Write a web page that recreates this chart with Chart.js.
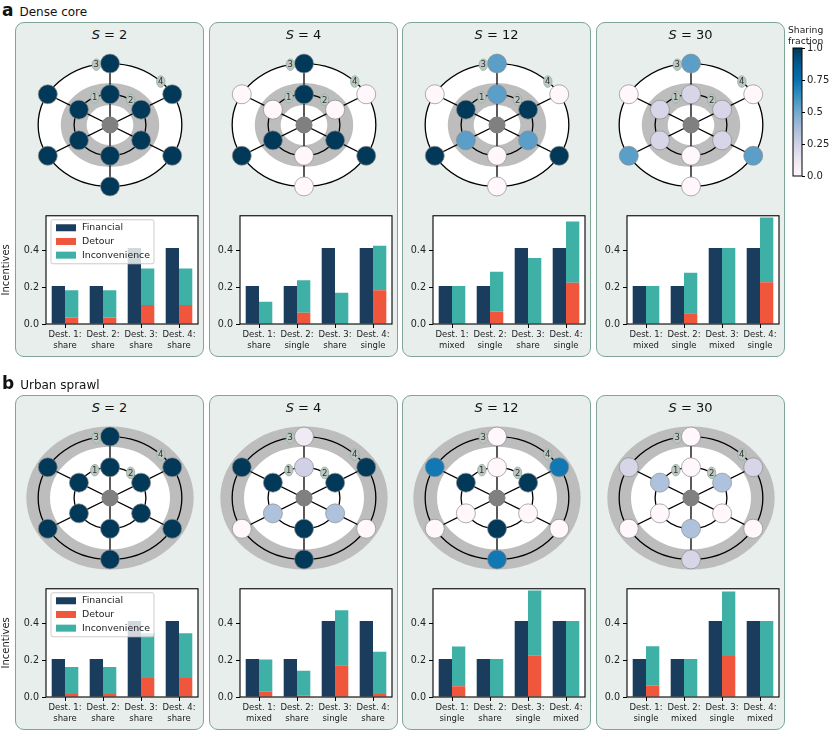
<!DOCTYPE html>
<html>
<head>
<meta charset="utf-8">
<script src="https://cdn.jsdelivr.net/npm/chart.js@4.4.0/dist/chart.umd.min.js"></script>
<style>
  body { margin: 0; background: #fff; font-family: 'DejaVu Sans', sans-serif; }
  #fig { position: relative; width: 831px; height: 733px; overflow: hidden; }
  .panel { position: absolute; background: #e8eeec; border: 1px solid #7ea596; border-radius: 9px; box-sizing: border-box; }
  .ptitle { position: absolute; font-size: 13px; line-height: 18px; text-align: center; color: #111; }
  .rowlab { position: absolute; left: 2px; color: #111; font-size: 12px; white-space: nowrap; }
  .rowlab b { font-size: 17px; margin-right: 6px; }
  .cblab { position: absolute; font-size: 9.2px; line-height: 11px; color: #222; }
  canvas { position: absolute; }
</style>
</head>
<body>
<div id="fig"></div>
<script>
// --- Dados ---
const sValues = [2, 4, 12, 30];
const rowLetters = ['a', 'b'];
const rowNames = ['Dense core', 'Urban sprawl'];
const categories = ['Dest. 1:', 'Dest. 2:', 'Dest. 3:', 'Dest. 4:'];
const seriesNames = ['Financial', 'Detour', 'Inconvenience'];

// modo escolhido por destino (linha a / linha b, um array por painel S)
const modesA = [['share', 'share', 'share', 'share'], ['share', 'single', 'share', 'single'],
                ['mixed', 'single', 'share', 'single'], ['mixed', 'single', 'mixed', 'single']];
const modesB = [['share', 'share', 'share', 'share'], ['mixed', 'share', 'single', 'share'],
                ['single', 'share', 'single', 'mixed'], ['single', 'mixed', 'single', 'mixed']];

// incentivos (barras)
const financialA = [[0.207, 0.207, 0.414, 0.414], [0.207, 0.207, 0.414, 0.414],
                    [0.207, 0.207, 0.414, 0.414], [0.207, 0.207, 0.414, 0.414]];
const detourA = [[0.035, 0.035, 0.103, 0.103], [0, 0.061, 0, 0.184],
                 [0, 0.068, 0, 0.225], [0, 0.059, 0, 0.227]];
const inconvA = [[0.149, 0.149, 0.199, 0.199], [0.121, 0.177, 0.171, 0.243],
                 [0.207, 0.217, 0.360, 0.334], [0.207, 0.220, 0.414, 0.353]];
const financialB = [[0.207, 0.207, 0.414, 0.414], [0.207, 0.207, 0.414, 0.414],
                    [0.207, 0.207, 0.414, 0.414], [0.207, 0.207, 0.414, 0.414]];
const detourB = [[0.016, 0.016, 0.104, 0.104], [0.029, 0.007, 0.173, 0.016],
                 [0.058, 0, 0.225, 0], [0.061, 0, 0.223, 0]];
const inconvB = [[0.148, 0.148, 0.244, 0.244], [0.176, 0.136, 0.300, 0.230],
                 [0.217, 0.207, 0.355, 0.414], [0.216, 0.207, 0.352, 0.414]];
const yTicks = [0, 0.2, 0.4];
const yMax = 0.59;

// rede: anel interno e externo, nós nos ângulos abaixo (topo, sup-dir, inf-dir, baixo, inf-esq, sup-esq)
const nodeAngles = [90, 30, -30, -90, -150, 150];
// fração de compartilhamento por nó
const innerShareA = [[1, 1, 1, 1, 1, 1], [1, 0, 1, 0, 1, 0],
                     [0.55, 1, 0.55, 0, 0.55, 1], [0.22, 0.22, 0.22, 0, 0.22, 0.22]];
const outerShareA = [[1, 1, 1, 1, 1, 1], [1, 0, 1, 0, 1, 0],
                     [0.55, 0, 1, 0, 1, 0], [0.55, 0, 0.55, 0, 0.55, 0]];
const innerShareB = [[1, 1, 1, 1, 1, 1], [0.25, 1, 0.35, 1, 0.35, 1],
                     [0, 1, 0, 1, 0, 1], [0, 0.35, 0, 0.35, 0, 0.35]];
const outerShareB = [[1, 1, 1, 1, 1, 1], [0.1, 1, 0, 1, 0, 1],
                     [0, 0.72, 0, 0.72, 0, 0.72], [0, 0.22, 0, 0.22, 0, 0.22]];
// zona cinza (raio interno / externo) de cada linha
const zoneInner = [0.65, 1.67];
const zoneOuter = [1.37, 2.33];
// rótulos dos destinos sobre os anéis
const destLabels = ['1', '2', '3', '4'];
const destRing = [1, 1, 2, 2];
const destAngle = [115, 55, 101, 45];

// barra de cores
const cbTicks = [0, 0.25, 0.5, 0.75, 1];
const cbTickLabels = ['0.0', '0.25', '0.5', '0.75', '1.0'];

// --- Estilo ---
const COL_FIN = '#1b3d5d';
const COL_DET = '#ef563c';
const COL_INC = '#3fb0a5';
const pubuStops = ['#fff7fb', '#ece7f2', '#d0d1e6', '#a6bddb', '#74a9cf', '#3690c0', '#0570b0', '#045a8d', '#023858'];
const PANEL_LEFT = [15, 209, 402, 596];
const ROW_TOP = [22, 395];
const PANEL_W = 189, PANEL_H = 335;
const NET_PAD = 10; // Chart.js reserva espaço para o raio dos pontos

Chart.defaults.font.family = "'DejaVu Sans', sans-serif";
Chart.defaults.color = '#222';

function hexRgb(h) {
  return [1, 3, 5].map(i => parseInt(h.slice(i, i + 2), 16));
}
// mapa de cores PuBu (matplotlib)
function pubu(v) {
  const n = pubuStops.length - 1;
  const t = Math.max(0, Math.min(1, v)) * n;
  const i = Math.min(Math.floor(t), n - 1);
  const f = t - i;
  const a = hexRgb(pubuStops[i]), b = hexRgb(pubuStops[i + 1]);
  return 'rgb(' + a.map((c, k) => Math.round(c + (b[k] - c) * f)).join(',') + ')';
}
function ringPoint(r, deg) {
  const a = deg * Math.PI / 180;
  return { x: r * Math.cos(a), y: r * Math.sin(a) };
}

const fig = document.getElementById('fig');
function addCanvas(left, top, w, h) {
  const c = document.createElement('canvas');
  c.width = w; c.height = h;
  c.style.left = left + 'px'; c.style.top = top + 'px';
  c.style.width = w + 'px'; c.style.height = h + 'px';
  fig.appendChild(c);
  return c;
}
function addDiv(cls, left, top, html, extra) {
  const d = document.createElement('div');
  d.className = cls;
  d.style.left = left + 'px'; d.style.top = top + 'px';
  if (extra) Object.assign(d.style, extra);
  d.innerHTML = html;
  fig.appendChild(d);
  return d;
}

// --- Plugins ---
// fundo branco + moldura preta da área do gráfico
const framePlugin = {
  id: 'frame',
  beforeDatasetsDraw(chart) {
    const { ctx, chartArea: a } = chart;
    ctx.save();
    ctx.fillStyle = '#fff';
    ctx.fillRect(a.left, a.top, a.right - a.left, a.bottom - a.top);
    ctx.restore();
  },
  afterDatasetsDraw(chart) {
    const { ctx, chartArea: a } = chart;
    ctx.save();
    ctx.strokeStyle = '#000';
    ctx.lineWidth = 1.1;
    ctx.strokeRect(a.left, a.top, a.right - a.left, a.bottom - a.top);
    ctx.restore();
  }
};

// legenda dentro da área do gráfico (canto superior esquerdo)
const insideLegend = {
  id: 'insideLegend',
  afterDatasetsDraw(chart, args, opts) {
    if (!opts.show) return;
    const { ctx, chartArea: a } = chart;
    const x0 = a.left + 5, y0 = a.top + 4;
    ctx.save();
    ctx.fillStyle = 'rgba(255,255,255,0.8)';
    ctx.strokeStyle = '#cccccc';
    ctx.lineWidth = 1;
    ctx.beginPath();
    ctx.roundRect(x0, y0, 103, 44, 2);
    ctx.fill();
    ctx.stroke();
    ctx.font = "9.4px 'DejaVu Sans'";
    ctx.textBaseline = 'middle';
    chart.data.datasets.forEach((d, i) => {
      const y = y0 + 8 + i * 13.7;
      ctx.fillStyle = d.backgroundColor;
      ctx.fillRect(x0 + 5, y - 3.5, 20, 7);
      ctx.fillStyle = '#222';
      ctx.fillText(d.label, x0 + 31, y);
    });
    ctx.restore();
  }
};

// anéis, zona cinza e rótulos dos destinos da rede
const networkDecor = {
  id: 'networkDecor',
  beforeDatasetsDraw(chart, args, opts) {
    const { ctx, scales: { x, y } } = chart;
    const cx = x.getPixelForValue(0), cy = y.getPixelForValue(0);
    const sx = x.getPixelForValue(1) - cx, sy = cy - y.getPixelForValue(1);
    const ell = (r) => { ctx.beginPath(); ctx.ellipse(cx, cy, r * sx, r * sy, 0, 0, Math.PI * 2); };
    ctx.save();
    ell(2); ctx.fillStyle = '#fff'; ctx.fill();
    ell(opts.zoneOut); ctx.fillStyle = '#bdbdbd'; ctx.fill();
    ell(opts.zoneIn); ctx.fillStyle = '#fff'; ctx.fill();
    ctx.strokeStyle = '#000';
    ctx.lineWidth = 1.3;
    ell(1); ctx.stroke();
    ell(2); ctx.stroke();
    ctx.restore();
  },
  afterDatasetsDraw(chart) {
    const { ctx, scales: { x, y } } = chart;
    ctx.save();
    ctx.font = "8.5px 'DejaVu Sans'";
    ctx.textAlign = 'center';
    ctx.textBaseline = 'middle';
    destLabels.forEach((lab, i) => {
      const p = ringPoint(destRing[i], destAngle[i]);
      const px = x.getPixelForValue(p.x), py = y.getPixelForValue(p.y);
      ctx.beginPath();
      ctx.ellipse(px, py, 4.2, 5.8, 0, 0, Math.PI * 2);
      ctx.fillStyle = '#bfc6c2';
      ctx.fill();
      ctx.strokeStyle = '#8db3a2';
      ctx.lineWidth = 0.8;
      ctx.stroke();
      ctx.fillStyle = '#333';
      ctx.fillText(lab, px, py + 0.5);
    });
    ctx.restore();
  }
};

// --- Construção dos gráficos ---
function makeNetwork(canvas, inner, outer, row) {
  const nodes = [], colors = [];
  nodeAngles.forEach((a, i) => { nodes.push(ringPoint(1, a)); colors.push(pubu(inner[i])); });
  nodeAngles.forEach((a, i) => { nodes.push(ringPoint(2, a)); colors.push(pubu(outer[i])); });
  const spokes = nodeAngles.map(a => ({
    data: [{ x: 0, y: 0 }, ringPoint(1, a), ringPoint(2, a)],
    showLine: true, borderColor: '#000', borderWidth: 1.3, pointRadius: 0, order: 3
  }));
  return new Chart(canvas, {
    type: 'scatter',
    data: {
      datasets: [
        { data: nodes, backgroundColor: colors, borderColor: '#8c8c8c', borderWidth: 0.7, pointRadius: 9.5, order: 1 },
        { data: [{ x: 0, y: 0 }], backgroundColor: '#808080', borderColor: '#808080', pointRadius: 8, order: 1 },
        ...spokes
      ]
    },
    options: {
      responsive: false, animation: false, events: [],
      layout: { padding: NET_PAD },
      scales: {
        x: { display: false, min: -2.5, max: 2.5 },
        y: { display: false, min: -2.5, max: 2.5 }
      },
      plugins: {
        legend: { display: false }, tooltip: { enabled: false },
        networkDecor: { zoneIn: zoneInner[row], zoneOut: zoneOuter[row] }
      }
    },
    plugins: [networkDecor]
  });
}

function makeBars(canvas, fin, det, inc, modes, first) {
  const cols = [COL_FIN, COL_DET, COL_INC];
  return new Chart(canvas, {
    type: 'bar',
    data: {
      labels: categories.map((c, i) => [c, modes[i]]),
      datasets: [fin, det, inc].map((d, i) => ({
        label: seriesNames[i], data: d, backgroundColor: cols[i], stack: i === 0 ? 'f' : 'c'
      }))
    },
    options: {
      responsive: false, animation: false, events: [],
      layout: { padding: { top: 8, right: 6, left: 0, bottom: 0 } },
      datasets: { bar: { categoryPercentage: 0.7, barPercentage: 1.0 } },
      plugins: {
        legend: { display: false }, tooltip: { enabled: false },
        insideLegend: { show: first }
      },
      scales: {
        x: {
          stacked: true,
          grid: { drawOnChartArea: false, offset: false, tickLength: 4, color: '#000' },
          border: { display: false },
          ticks: { color: '#222', font: { size: 8.5 }, padding: 2, maxRotation: 0, autoSkip: false },
          afterFit: s => { s.height = 36; }
        },
        y: {
          stacked: true, min: 0, max: yMax,
          afterBuildTicks: s => { s.ticks = yTicks.map(v => ({ value: v })); },
          grid: { drawOnChartArea: false, tickLength: 4, color: '#000' },
          border: { display: false },
          ticks: { color: '#222', font: { size: 9.6 }, padding: 3, callback: v => v.toFixed(1) },
          title: { display: first, text: 'Incentives', color: '#222', font: { size: 10 }, padding: 0 },
          afterFit: s => { s.width = 46; }
        }
      }
    },
    plugins: [framePlugin, insideLegend]
  });
}

const rowData = [
  { fin: financialA, det: detourA, inc: inconvA, modes: modesA, inner: innerShareA, outer: outerShareA },
  { fin: financialB, det: detourB, inc: inconvB, modes: modesB, inner: innerShareB, outer: outerShareB }
];

rowData.forEach((rd, row) => {
  const top = ROW_TOP[row];
  addDiv('rowlab', 2, top - 22, '<b>' + rowLetters[row] + '</b>' + rowNames[row]);
  sValues.forEach((s, p) => {
    const left = PANEL_LEFT[p];
    const panel = document.createElement('div');
    panel.className = 'panel';
    Object.assign(panel.style, { left: left + 'px', top: top + 'px', width: PANEL_W + 'px', height: PANEL_H + 'px' });
    fig.appendChild(panel);
    addDiv('ptitle', left, top + 4, '<i>S</i> = ' + s, { width: PANEL_W + 'px' });

    // área útil 180x154 centrada em (left+95, top+103)
    const net = addCanvas(left + 5 - NET_PAD, top + 26 - NET_PAD, 180 + 2 * NET_PAD, 154 + 2 * NET_PAD);
    makeNetwork(net, rd.inner[p], rd.outer[p], row);

    const plotLeft = left + 31;
    const bars = addCanvas(plotLeft - 46, top + 185, 204, 153);
    makeBars(bars, rd.fin[p], rd.det[p], rd.inc[p], rd.modes[p], p === 0);
  });
});

// --- Barra de cores ---
addDiv('cblab', 788, 24, 'Sharing<br>fraction');
const cb = addCanvas(788, 40, 43, 145);
new Chart(cb, {
  type: 'bar',
  data: {
    labels: ['frac'],
    datasets: [{
      data: [1], barPercentage: 1, categoryPercentage: 1,
      backgroundColor: c => {
        const a = c.chart.chartArea;
        if (!a) return null;
        const g = c.chart.ctx.createLinearGradient(0, a.bottom, 0, a.top);
        pubuStops.forEach((st, i) => g.addColorStop(i / (pubuStops.length - 1), st));
        return g;
      }
    }]
  },
  options: {
    responsive: false, animation: false, events: [],
    layout: { padding: { left: 5, top: 8, bottom: 9, right: 0 } },
    plugins: { legend: { display: false }, tooltip: { enabled: false } },
    scales: {
      x: { display: false },
      y: {
        position: 'right', min: 0, max: 1,
        afterBuildTicks: s => { s.ticks = cbTicks.map(v => ({ value: v })); },
        ticks: { color: '#222', font: { size: 10 }, padding: 2, callback: (v, i) => cbTickLabels[i] },
        grid: { drawOnChartArea: false, tickLength: 3, color: '#000' },
        border: { display: false },
        afterFit: s => { s.width = 29; }
      }
    }
  },
  plugins: [{
    id: 'cbFrame',
    afterDatasetsDraw(chart) {
      const { ctx, chartArea: a } = chart;
      ctx.save();
      ctx.strokeStyle = '#000';
      ctx.lineWidth = 1;
      ctx.strokeRect(a.left, a.top, a.right - a.left, a.bottom - a.top);
      ctx.restore();
    }
  }]
});
</script>
</body>
</html>
